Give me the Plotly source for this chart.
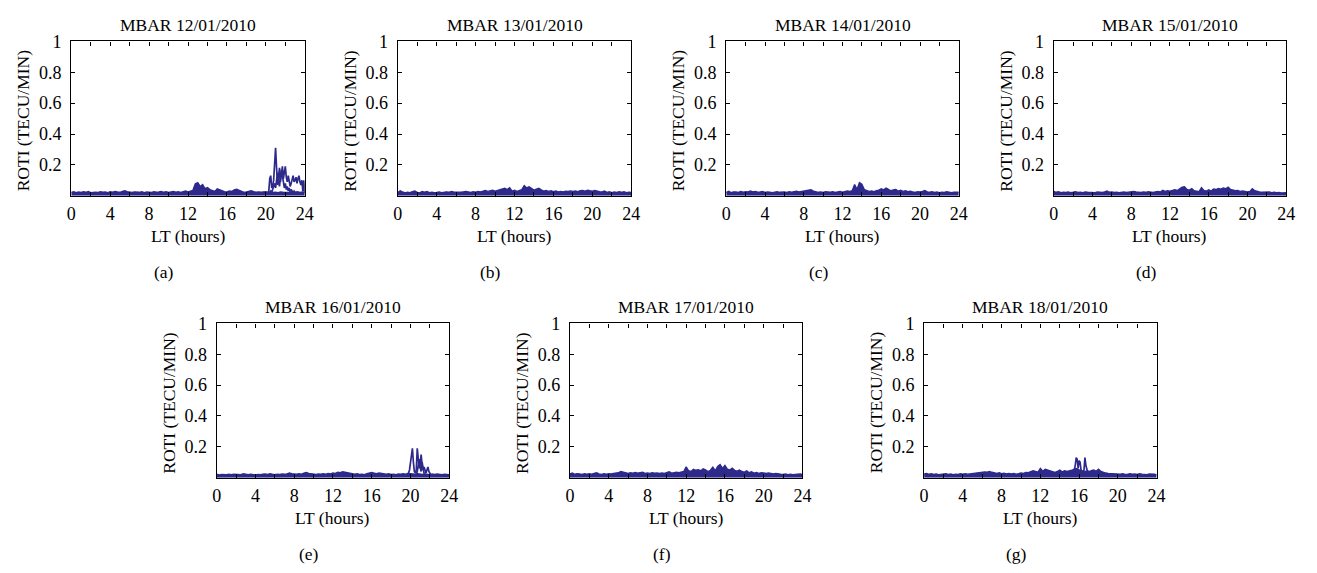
import numpy as np
import plotly.graph_objects as go

# ROTI at MBAR station, 12-18 January 2010, sampled every 15 min (0-24 LT)
hours = np.arange(0, 24.01, 0.25)

dates = ["12/01/2010", "13/01/2010", "14/01/2010", "15/01/2010",
         "16/01/2010", "17/01/2010", "18/01/2010"]
letters = ["(a)", "(b)", "(c)", "(d)", "(e)", "(f)", "(g)"]

roti_12 = [.022, .026, .020, .024, .021, .025, .022, .027, .020, .024, .023, .021,
           .025, .022, .024, .020, .026, .023, .027, .024, .022, .028, .032, .026,
           .024, .021, .025, .023, .022, .026, .020, .024, .023, .021, .025, .022,
           .024, .027, .022, .025, .021, .024, .028, .023, .026, .022, .027, .030,
           .025, .029, .035, .078, .085, .060, .072, .045, .052, .040, .034, .028,
           .045, .038, .032, .026, .024, .030, .028, .038, .042, .035, .026, .022,
           .024, .028, .032, .026, .023, .025, .022, .024, .026, .022, .025, .021,
           .023, .020, .024, .022, .021, .023, .020, .024, .022, .025, .021, .024,
           .022]
roti_13 = [.020, .032, .024, .018, .022, .020, .026, .030, .021, .019, .027, .023,
           .028, .020, .022, .019, .021, .024, .020, .023, .025, .022, .027, .024,
           .023, .026, .022, .025, .027, .024, .021, .026, .023, .027, .025, .029,
           .034, .028, .031, .036, .030, .035, .038, .042, .048, .040, .052, .030,
           .036, .028, .034, .040, .066, .050, .058, .048, .036, .042, .048, .038,
           .030, .034, .028, .032, .026, .030, .024, .028, .025, .029, .027, .031,
           .028, .030, .026, .032, .034, .030, .036, .032, .030, .034, .028, .026,
           .024, .030, .022, .026, .020, .024, .021, .025, .022, .026, .020, .023,
           .021]
roti_14 = [.022, .028, .020, .025, .024, .021, .027, .023, .026, .024, .030, .025,
           .027, .023, .025, .028, .021, .024, .022, .020, .023, .026, .022, .025,
           .024, .021, .026, .023, .025, .029, .024, .027, .026, .030, .036, .038,
           .030, .025, .022, .024, .021, .026, .023, .022, .025, .021, .024, .027,
           .023, .026, .030, .028, .032, .072, .040, .085, .075, .040, .034, .028,
           .030, .026, .032, .036, .045, .038, .050, .040, .032, .038, .040, .030,
           .035, .028, .032, .026, .029, .025, .022, .026, .024, .028, .033, .025,
           .022, .025, .021, .024, .020, .023, .021, .025, .022, .019, .023, .021,
           .022]
roti_15 = [.028, .022, .025, .020, .023, .021, .024, .020, .022, .025, .021, .023,
           .020, .024, .022, .021, .023, .020, .024, .022, .021, .025, .030, .022,
           .024, .021, .023, .020, .022, .024, .021, .023, .025, .028, .024, .022,
           .021, .024, .022, .026, .023, .021, .025, .028, .024, .035, .028, .032,
           .030, .036, .038, .034, .045, .055, .058, .040, .036, .046, .032, .030,
           .026, .052, .034, .030, .038, .030, .044, .040, .046, .042, .050, .045,
           .055, .040, .036, .032, .034, .028, .030, .026, .024, .028, .045, .032,
           .026, .024, .022, .023, .021, .024, .020, .022, .019, .021, .018, .020,
           .019]
roti_16 = [.022, .018, .021, .019, .020, .023, .019, .022, .021, .024, .020, .026,
           .021, .019, .022, .020, .018, .021, .019, .022, .024, .021, .025, .022,
           .020, .023, .021, .024, .022, .025, .030, .026, .024, .022, .025, .023,
           .030, .034, .028, .026, .023, .021, .024, .022, .025, .023, .027, .024,
           .030, .028, .035, .032, .038, .034, .030, .026, .024, .022, .025, .021,
           .023, .020, .026, .028, .034, .030, .026, .030, .028, .024, .022, .025,
           .021, .023, .020, .024, .022, .025, .023, .028, .026, .024, .022, .025,
           .023, .021, .024, .022, .020, .023, .021, .024, .022, .020, .023, .021,
           .020]
roti_17 = [.025, .030, .022, .026, .024, .021, .025, .022, .026, .023, .028, .032,
           .024, .021, .025, .022, .026, .024, .028, .030, .032, .040, .036, .030,
           .028, .032, .029, .034, .030, .033, .036, .028, .030, .027, .032, .029,
           .031, .028, .030, .027, .032, .038, .030, .034, .036, .032, .035, .040,
           .070, .045, .040, .055, .048, .052, .045, .058, .050, .040, .048, .068,
           .045, .072, .085, .060, .080, .055, .050, .062, .048, .042, .050, .040,
           .036, .044, .032, .038, .030, .034, .028, .032, .030, .027, .031, .028,
           .025, .028, .024, .022, .021, .024, .020, .023, .019, .022, .020, .024,
           .021]
roti_18 = [.024, .028, .022, .026, .021, .024, .020, .023, .022, .025, .021, .024,
           .020, .023, .021, .025, .022, .026, .023, .025, .028, .032, .030, .036,
           .034, .038, .036, .040, .035, .030, .028, .032, .026, .029, .025, .028,
           .024, .027, .023, .026, .030, .028, .034, .032, .038, .045, .040, .036,
           .060, .042, .055, .050, .045, .038, .035, .040, .050, .038, .045, .040,
           .042, .048, .055, .060, .050, .045, .040, .042, .038, .045, .050, .042,
           .055, .040, .034, .030, .028, .026, .025, .023, .024, .022, .025, .021,
           .023, .026, .022, .024, .021, .025, .023, .022, .020, .024, .021, .022,
           .020]
daily_roti = [roti_12, roti_13, roti_14, roti_15, roti_16, roti_17, roti_18]

# Individual satellite tracks with scintillation bursts (6-min sampling)
burst_12_a_t = [20.2, 20.3, 20.4, 20.5, 20.6, 20.7, 20.8, 20.9, 21.0, 21.1, 21.2, 21.3,
                21.4, 21.5, 21.6, 21.7, 21.8, 21.9, 22.0, 22.1, 22.2, 22.3, 22.4, 22.5,
                22.6, 22.7, 22.8, 22.9, 23.0, 23.1, 23.2, 23.3, 23.4, 23.5, 23.6, 23.7,
                23.8, 23.9, 24.0]
burst_12_a_v = [.02, .03, .11, .13, .05, .06, .10, .22, .31, .18, .07, .12, .18, .09,
                .14, .19, .11, .15, .19, .12, .09, .13, .10, .06, .08, .11, .13, .09,
                .10, .12, .08, .11, .13, .09, .07, .10, .03, .10, .02]
burst_12_b_t = [20.4, 20.5, 20.6, 20.7, 20.8, 20.9, 21.0, 21.1, 21.2, 21.3, 21.4, 21.5,
                21.6, 21.7, 21.8, 21.9, 22.0, 22.1, 22.2, 22.3, 22.4, 22.5, 22.6, 22.7,
                22.8, 22.9, 23.0]
burst_12_b_v = [.02, .03, .02, .04, .06, .08, .05, .10, .15, .09, .06, .12, .17, .13,
                .07, .05, .08, .04, .06, .03, .05, .02, .04, .03, .02, .03, .02]
burst_16_a_t = [19.7, 19.8, 19.9, 20.0, 20.1, 20.2, 20.3, 20.4, 20.5, 20.6, 20.7, 20.8,
                20.9, 21.0, 21.1, 21.2, 21.3, 21.4, 21.5, 21.6, 21.7, 21.8, 21.9, 22.0,
                22.1, 22.2, 22.3, 22.4]
burst_16_a_v = [.02, .03, .05, .09, .13, .19, .10, .04, .03, .05, .19, .12, .06, .09,
                .15, .08, .05, .07, .04, .03, .05, .07, .04, .03, .02, .02, .02, .02]
burst_16_b_t = [20.6, 20.7, 20.8, 20.9, 21.0, 21.1, 21.2, 21.3, 21.4, 21.5]
burst_16_b_v = [.02, .04, .08, .12, .07, .04, .10, .06, .03, .02]
burst_18_t = [15.4, 15.5, 15.6, 15.7, 15.8, 15.9, 16.0, 16.1, 16.2, 16.3, 16.4, 16.5,
              16.6, 16.7, 16.8, 16.9, 17.0, 17.1, 17.2]
burst_18_v = [.04, .05, .08, .13, .12, .06, .11, .10, .05, .04, .03, .05, .13, .08,
              .04, .03, .04, .03, .03]
bursts = {
    0: [(burst_12_a_t, burst_12_a_v), (burst_12_b_t, burst_12_b_v)],
    4: [(burst_16_a_t, burst_16_a_v), (burst_16_b_t, burst_16_b_v)],
    6: [(burst_18_t, burst_18_v)],
}

W, H = 1317, 573
LINE = "rgb(46,42,140)"
FONT = "Liberation Serif"
TEXT_SIZE = 17.5
TICK_SIZE = 18

# plot-area boxes in pixels: (left, right, top, bottom)
row1 = (32, 189)
row2 = (319, 476)
boxes = [(67, 303) + row1, (397, 633) + row1, (729, 964) + row1, (1060, 1295) + row1,
         (214, 449) + row2, (571, 806) + row2, (929, 1164) + row2]

fig = go.Figure()
annotations = []
x_ticks = list(range(0, 25, 2))
x_text = [str(v) if v % 4 == 0 else "" for v in x_ticks]

for i, (l, r, t, b) in enumerate(boxes):
    n = "" if i == 0 else str(i + 1)
    xa, ya = "x" + n, "y" + n
    fig.add_trace(go.Scatter(x=hours, y=daily_roti[i], mode="lines", fill="tozeroy",
                             fillcolor=LINE, line=dict(color=LINE, width=1.4),
                             xaxis=xa, yaxis=ya, showlegend=False))
    for bt, bv in bursts.get(i, []):
        fig.add_trace(go.Scatter(x=bt, y=bv, mode="lines",
                                 line=dict(color=LINE, width=1.7),
                                 xaxis=xa, yaxis=ya, showlegend=False))
    axis_common = dict(showline=True, linecolor="black", linewidth=1.2, mirror="ticks",
                       ticks="inside", ticklen=4, tickcolor="black", tickwidth=1,
                       showgrid=False, zeroline=False,
                       tickfont=dict(family=FONT, size=TICK_SIZE, color="black"))
    fig.update_layout({
        "xaxis" + n: dict(domain=[l / W, r / W], range=[0, 24], anchor=ya,
                          tickvals=x_ticks, ticktext=x_text, ticklabelstandoff=2,
                          **axis_common),
        "yaxis" + n: dict(domain=[1 - b / H, 1 - t / H], range=[0, 1], anchor=xa,
                          tickvals=[0.2, 0.4, 0.6, 0.8, 1.0],
                          ticktext=["0.2", "0.4", "0.6", "0.8", "1"],
                          ticklabelstandoff=5, **axis_common),
    })
    cx = (l + r) / 2
    txt = dict(family=FONT, size=TEXT_SIZE, color="black")
    annotations += [
        dict(text="MBAR " + dates[i], x=cx / W, y=1 - (t - 17) / H, font=txt),
        dict(text="LT (hours)", x=cx / W, y=1 - (b + 41) / H, font=txt),
        dict(text="ROTI (TECU/MIN)", x=(l - 49) / W, y=1 - ((t + b) / 2 + 2) / H,
             textangle=-90, font=txt),
        dict(text=letters[i], x=(cx - 24) / W, y=1 - (b + 78) / H, font=txt),
    ]

for a in annotations:
    a.update(xref="paper", yref="paper", showarrow=False,
             xanchor="center", yanchor="middle")

fig.update_layout(width=W, height=H, margin=dict(l=0, r=0, t=0, b=0),
                  paper_bgcolor="white", plot_bgcolor="white",
                  annotations=annotations)
fig.write_html("out.html")
